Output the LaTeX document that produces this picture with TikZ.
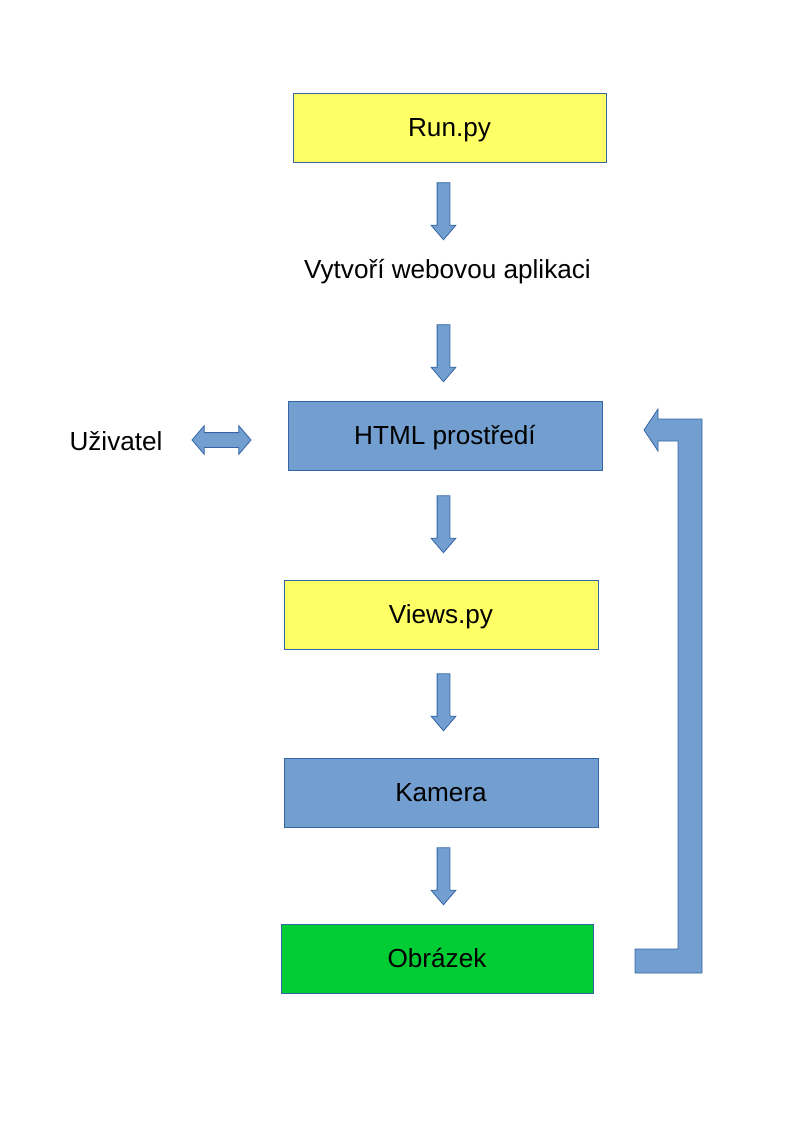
\documentclass[tikz,border=0pt]{standalone}
\usepackage{fontspec}
\setmainfont{Liberation Sans}
\usetikzlibrary{shapes.arrows}
\definecolor{boxline}{HTML}{3465A4}
\definecolor{boxyellow}{HTML}{FFFF66}
\definecolor{boxblue}{HTML}{729FCF}
\definecolor{boxgreen}{HTML}{00CC33}

\begin{document}
\begin{tikzpicture}[
    x=0.75pt, y=-0.75pt,
    every node/.style={font=\fontsize{19.6pt}{23pt}\selectfont, text height=18pt, text depth=4pt},
    block/.style={draw=boxline, line width=0.6pt, minimum width=234.75pt, minimum height=51.75pt, inner sep=0pt},
    downarr/.style={single arrow, draw=boxline, fill=boxblue, line width=0.6pt,
        text height=0pt, text depth=0pt, inner xsep=0pt, inner ysep=4.5pt,
        minimum height=42.75pt, single arrow head extend=4.5pt,
        single arrow tip angle=81, rotate=-90},
    botharr/.style={double arrow, draw=boxline, fill=boxblue, line width=0.6pt,
        text height=0pt, text depth=0pt, inner xsep=0pt, inner ysep=5.25pt,
        minimum height=44.25pt, double arrow head extend=5.25pt,
        double arrow tip angle=99}
]
\useasboundingbox (0,0) rectangle (794,1123);

\node[block, fill=boxyellow] (run) at (449.5,127.5) {Run.py};
\node (app) at (447.5,269) {Vytvoří webovou aplikaci};
\node[block, fill=boxblue, minimum width=235.5pt] (html) at (445,435.5) {HTML prostředí};
\node[block, fill=boxyellow, minimum width=235.5pt] (views) at (441,614.5) {Views.py};
\node[block, fill=boxblue, minimum width=235.5pt] (kamera) at (441,792.5) {Kamera};
\node[block, fill=boxgreen, minimum width=234pt] (obrazek) at (437,958.5) {Obrázek};
\node (user) at (116,441) {Uživatel};

\foreach \name/\y in {a1/207.5, a2/349.5, a3/520.5, a4/698.5, a5/872.5}{
  \node[downarr] (\name) at (443.5,\y) {};
}
\node[botharr] (ua) at (221.5,440) {};

\draw[draw=boxline, fill=boxblue, line width=0.6pt]
  (635,949) -- (678,949) -- (678,441) -- (658,441) -- (658,451) -- (644,430)
  -- (658,409) -- (658,419) -- (702,419) -- (702,973) -- (635,973) -- cycle;

\end{tikzpicture}
\end{document}
